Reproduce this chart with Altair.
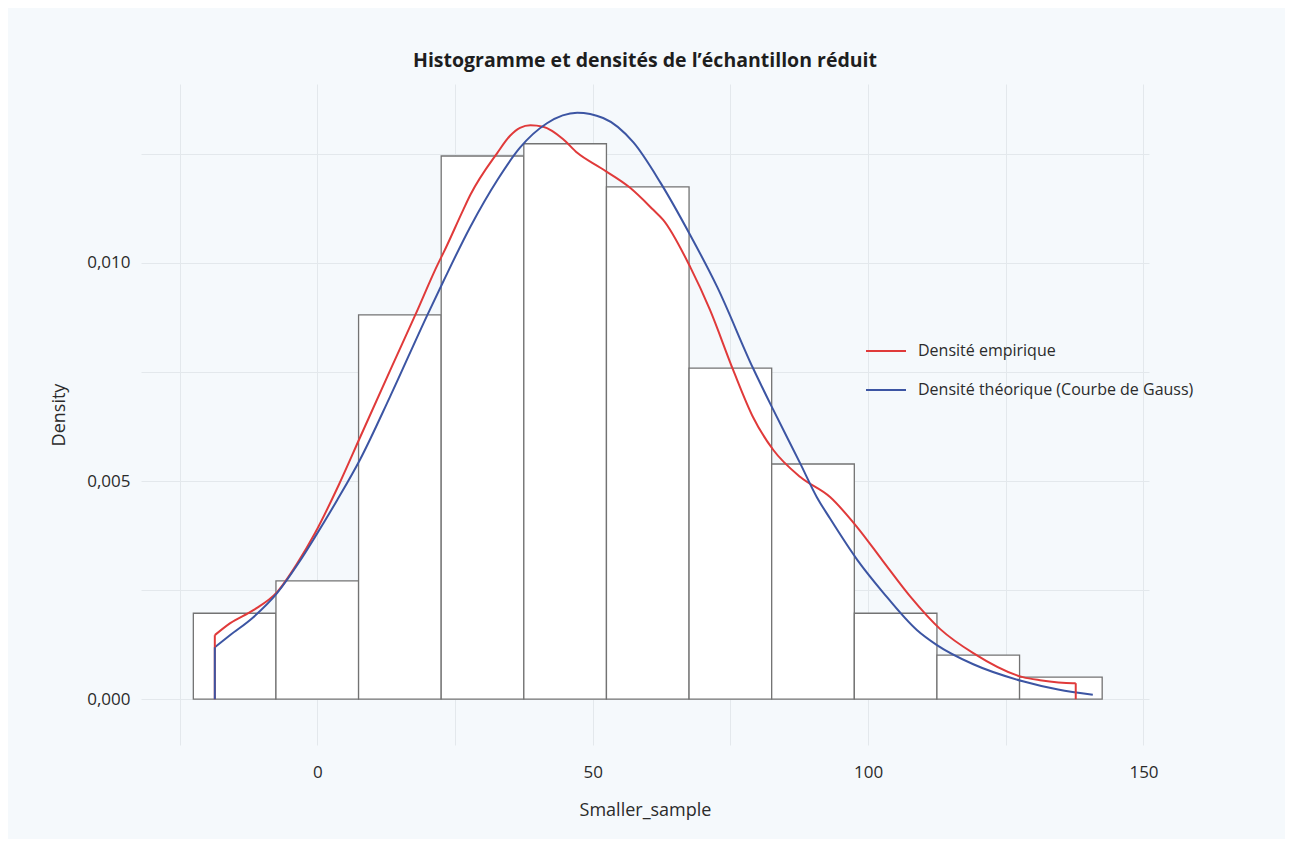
import altair as alt
import pandas as pd

# Histogram (bin width 15)
bin_start = [-22.5, -7.5, 7.5, 22.5, 37.5, 52.5, 67.5, 82.5, 97.5, 112.5, 127.5]
bin_end = [-7.5, 7.5, 22.5, 37.5, 52.5, 67.5, 82.5, 97.5, 112.5, 127.5, 142.5]
bar_density = [0.00197, 0.00271, 0.00881, 0.01245, 0.01273, 0.01174,
               0.00759, 0.00539, 0.00197, 0.00101, 0.000505]

emp_x = [-18.6, -15.8, -11.6, -7.3, -3.6, -0.4, 3.9, 7.8, 13.6, 17.8, 22.0, 22.9,
         26.5, 27.8, 32.7, 35.0, 36.8, 38.7, 41.0, 44.6, 47.2, 51.4, 56.8,
         61.0, 62.8, 67.7, 71.3, 75.5, 79.1, 82.8, 87.7, 93.1, 98.0, 102.7, 107.6,
         113.1, 119.1, 128.1, 131.2, 137.2, 137.7]
emp_y = [0.001468, 0.001743, 0.002041, 0.002454, 0.003119, 0.003807, 0.004910,
         0.006009, 0.007640, 0.008807, 0.010000, 0.010229, 0.011216, 0.011560,
         0.012523, 0.012913, 0.013096, 0.013154, 0.013119, 0.012840, 0.012523,
         0.012180, 0.011720, 0.011216, 0.010986, 0.009908, 0.008922,
         0.007546, 0.006468, 0.005711, 0.005092, 0.004633, 0.003945, 0.003165,
         0.002362, 0.001606, 0.001055, 0.000505, 0.000436, 0.000367, 0.000367]

# Theoretical Gaussian density (blue)
gauss_x = [-18.6, -15.8, -11.6, -7.3, -3.4, -0.4, 3.6, 7.8, 13.2, 20.0, 22.9, 27.8,
           32.7, 36.8, 41.7, 47.2, 51.9, 57.4, 62.3, 67.7, 72.6, 79.1, 82.8, 87.7,
           90.7, 93.1, 98.0, 102.7, 108.9, 112.5, 119.1, 128.1, 134.5, 140.8]
gauss_y = [0.00119, 0.00147, 0.00188, 0.00243, 0.00312, 0.00372, 0.00456, 0.00550,
           0.00693, 0.00881, 0.00958, 0.01083, 0.01190, 0.01264, 0.01320, 0.01344,
           0.01332, 0.01276, 0.01184, 0.01064, 0.00945, 0.00759, 0.00663, 0.00540,
           0.00463, 0.00414, 0.00320, 0.00245, 0.00158, 0.00124, 0.00080, 0.00041,
           0.00022, 0.00010]

series = ["Densité empirique", "Densité théorique (Courbe de Gauss)"]
series_colors = ["#E03A3A", "#3C55A3"]

x_ticks = [-25, 0, 25, 50, 75, 100, 125, 150]
y_ticks = [0, 0.0025, 0.005, 0.0075, 0.01, 0.0125]

FONT = "Open Sans"

df_bars = pd.DataFrame({"start": bin_start, "end": bin_end, "density": bar_density,
                        "zero": [0.0] * len(bin_start)})

rows = []
for i, (x, y) in enumerate(zip(emp_x, emp_y)):
    rows.append({"x": x, "y": y, "serie": series[0], "i": i})
for i, (x, y) in enumerate(zip(gauss_x, gauss_y)):
    rows.append({"x": x, "y": y, "serie": series[1], "i": i})
df_lines = pd.DataFrame(rows)

df_drops = pd.DataFrame({
    "x": [emp_x[0], emp_x[-1], gauss_x[0]],
    "y": [emp_y[0], emp_y[-1], gauss_y[0]],
    "zero": [0.0, 0.0, 0.0],
    "serie": [series[0], series[0], series[1]],
})

xscale = alt.Scale(domain=[-32, 151], nice=False, zero=False)
yscale = alt.Scale(domain=[-0.00105, 0.0141], nice=False, zero=False)

xaxis = alt.Axis(values=x_ticks, labelExpr="datum.value % 50 == 0 ? datum.label : ''",
                 grid=True, domain=False, ticks=False, labelPadding=19, titlePadding=21,
                 labelFontSize=17, titleFontSize=18, labelFont=FONT, titleFont=FONT,
                 labelColor="#2b2b2b", titleColor="#2b2b2b", titleFontWeight="normal")
yaxis = alt.Axis(values=y_ticks,
                 labelExpr="round(datum.value*10000) % 50 == 0 ? replace(format(datum.value, '.3f'), '.', ',') : ''",
                 grid=True, domain=False, ticks=False, labelPadding=11, titlePadding=18,
                 labelFontSize=17, titleFontSize=18, labelFont=FONT, titleFont=FONT,
                 labelColor="#2b2b2b", titleColor="#2b2b2b", titleFontWeight="normal")

color = alt.Color("serie:N", title=None,
                  scale=alt.Scale(domain=series, range=series_colors),
                  legend=alt.Legend(orient="none", legendX=724, legendY=246,
                                    symbolType="stroke", symbolSize=1600,
                                    symbolStrokeWidth=2, labelFontSize=16,
                                    labelFont=FONT, labelColor="#2b2b2b",
                                    labelOffset=11, labelLimit=500,
                                    rowPadding=10, padding=0))

bars = alt.Chart(df_bars).mark_rect(fill="white", stroke="#737373", strokeWidth=1.3).encode(
    x=alt.X("start:Q", scale=xscale, axis=xaxis, title="Smaller_sample"),
    x2="end:Q",
    y=alt.Y("density:Q", scale=yscale, axis=yaxis, title="Density"),
    y2="zero:Q",
)

lines = alt.Chart(df_lines).mark_line(strokeWidth=2, interpolate="monotone").encode(
    x=alt.X("x:Q", scale=xscale),
    y=alt.Y("y:Q", scale=yscale),
    color=color,
    order="i:Q",
)

drops = alt.Chart(df_drops).mark_rule(strokeWidth=2).encode(
    x=alt.X("x:Q", scale=xscale),
    y=alt.Y("zero:Q", scale=yscale),
    y2="y:Q",
    color=color,
)

chart = alt.layer(bars, lines, drops).properties(
    width=1008, height=661,
    autosize=alt.AutoSizeParams(type="none"),
    padding={"left": 133, "top": 76, "right": 136, "bottom": 94},
    background="#F5F9FC",
    title=alt.TitleParams("Histogramme et densités de l’échantillon réduit",
                          font=FONT, fontSize=19.5, fontWeight="bold",
                          color="#1e1e1e", offset=13, anchor="middle"),
).configure_view(
    fill="#F5F9FC", stroke=None
).configure_axis(
    gridColor="#E3E8EC", gridWidth=1
)

chart.save("out.html", embed_options={"renderer": "svg", "actions": False})
